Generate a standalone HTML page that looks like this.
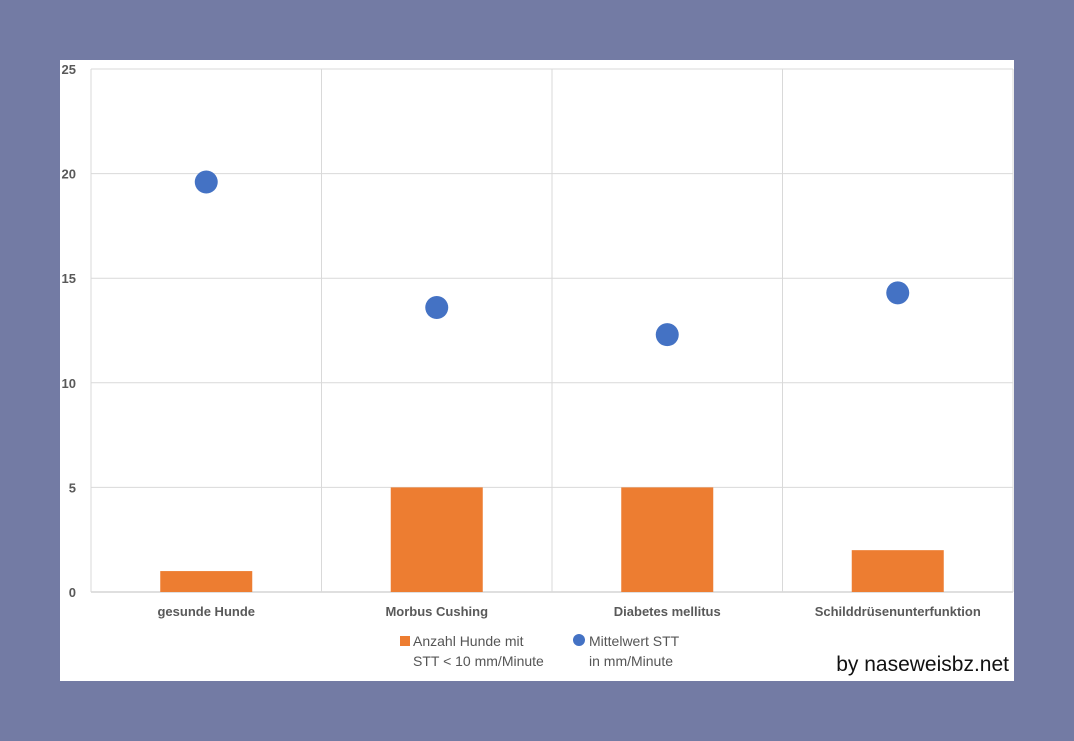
<!DOCTYPE html>
<html><head><meta charset="utf-8"><style>
body{margin:0;background:#737ba4;width:1074px;height:741px;overflow:hidden;font-family:"Liberation Sans",sans-serif}
</style></head><body>
<svg width="1074" height="741" style="position:absolute;left:0;top:0">
<rect x="60" y="60" width="954" height="621" fill="#fff"/>
<g id="grid"></g><g id="marks"></g><g id="labels"></g>
<g font-size="14" fill="#555">
<rect x="400" y="636" width="10" height="10" fill="#ed7d31"/>
<text x="413" y="646">Anzahl Hunde mit</text>
<text x="413" y="666">STT &lt; 10 mm/Minute</text>
<circle cx="579" cy="640" r="6" fill="#4472c4"/>
<text x="589" y="646">Mittelwert STT</text>
<text x="589" y="666">in mm/Minute</text>
</g>
<text x="1009" y="671" text-anchor="end" font-size="21" fill="#111">by naseweisbz.net</text>
</svg>
<script>
const categories=["gesunde Hunde","Morbus Cushing","Diabetes mellitus","Schilddrüsenunterfunktion"];
const barValues=[1,5,5,2];
const dotValues=[19.6,13.6,12.3,14.3];
const yTicks=[0,5,10,15,20,25];
const NS="http://www.w3.org/2000/svg";
const L=91,R=1013,T=69,B=592,MAX=25;
const y=v=>B-(v/MAX)*(B-T);
const band=(R-L)/categories.length;
const xc=i=>L+band*(i+0.5);
function mk(tag,attrs,parent){const e=document.createElementNS(NS,tag);for(const k in attrs)e.setAttribute(k,attrs[k]);document.getElementById(parent).appendChild(e);return e;}
yTicks.forEach(t=>{
 const l=mk('line',{x1:L,x2:R,y1:y(t),y2:y(t),stroke:t===0?'#bfbfbf':'#d9d9d9'},'grid');
 
 
 const tx=mk('text',{x:L-15,y:y(t)+5,'text-anchor':'end','font-size':13,'font-weight':'bold',fill:'#595959'},'labels');
 tx.textContent=t;
 
 
});
for(let i=0;i<=categories.length;i++){
 const l=mk('line',{x1:L+band*i,x2:L+band*i,y1:T,y2:B,stroke:'#d9d9d9'},'grid');
 
 
}
categories.forEach((c,i)=>{
 const b=mk('rect',{x:xc(i)-46,y:y(barValues[i]),width:92,height:B-y(barValues[i]),fill:'#ed7d31'},'marks');
 
 
 const d=mk('circle',{cx:xc(i),cy:y(dotValues[i]),r:11.5,fill:'#4472c4'},'marks');
 
 
 const tx=mk('text',{x:xc(i),y:616,'text-anchor':'middle','font-size':13,'font-weight':'bold',fill:'#595959'},'labels');
 tx.textContent=c;
 
 
});
</script>
</body></html>
